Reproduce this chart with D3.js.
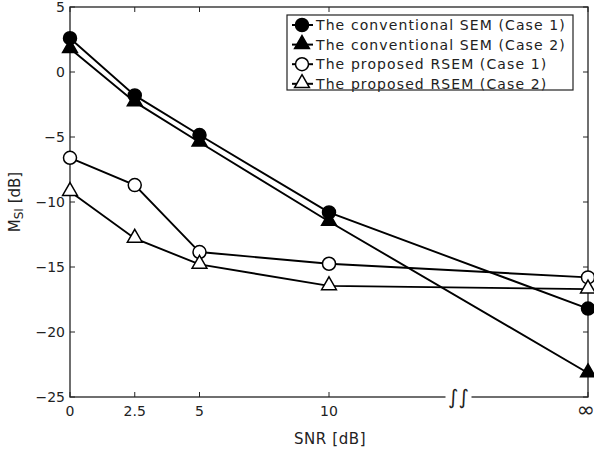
<!DOCTYPE html>
<html><head><meta charset="utf-8">
<script src="https://cdn.jsdelivr.net/npm/d3@7"></script>
<style>body{margin:0;background:#fff}svg{display:block}text{font-family:"DejaVu Sans",sans-serif;fill:#222}</style>
</head><body>
<svg id="c" width="594" height="453"></svg>
<script>
const snrPos = [0, 2.5, 5, 10, 20];
const snrLabels = ["0", "2.5", "5", "10", "\u221E"];
const yTicks = [5, 0, -5, -10, -15, -20, -25];
const convCase1 = [2.6, -1.8, -4.85, -10.8, -18.2];
const convCase2 = [1.8, -2.3, -5.4, -11.5, -23.15];
const propCase1 = [-6.6, -8.7, -13.85, -14.75, -15.8];
const propCase2 = [-9.2, -12.8, -14.8, -16.45, -16.7];
const seriesNames = ["The conventional SEM (Case 1)", "The conventional SEM (Case 2)", "The proposed RSEM (Case 1)", "The proposed RSEM (Case 2)"];
const breakAt = 15;

const series = [
  {name: seriesNames[0], vals: convCase1, shape: "circle", fill: "#000"},
  {name: seriesNames[1], vals: convCase2, shape: "triangle", fill: "#000"},
  {name: seriesNames[2], vals: propCase1, shape: "circle", fill: "#fff"},
  {name: seriesNames[3], vals: propCase2, shape: "triangle", fill: "#fff"}
];

const svg = d3.select("#c");
const L = 70, R = 588, T = 7, B = 397;
const x = d3.scaleLinear().domain([0, 20]).range([L, R]);
const y = d3.scaleLinear().domain([-25, 5]).range([B, T]);

const g = svg.append("g");
g.append("rect").attr("x", L).attr("y", T).attr("width", R - L).attr("height", B - T)
  .attr("fill", "none").attr("stroke", "#222").attr("stroke-width", 1.3);

const tl = 5;
snrPos.forEach(v => {
  g.append("line").attr("x1", x(v)).attr("x2", x(v)).attr("y1", B).attr("y2", B - tl).attr("stroke", "#222");
  g.append("line").attr("x1", x(v)).attr("x2", x(v)).attr("y1", T).attr("y2", T + tl).attr("stroke", "#222");
});
yTicks.forEach(v => {
  g.append("line").attr("x1", L).attr("x2", L + tl).attr("y1", y(v)).attr("y2", y(v)).attr("stroke", "#222");
  g.append("line").attr("x1", R).attr("x2", R - tl).attr("y1", y(v)).attr("y2", y(v)).attr("stroke", "#222");
});

snrPos.forEach((v, i) => {
  const isInf = snrLabels[i] === "\u221E";
  g.append("text").attr("x", x(v) - (isInf ? 2 : 0)).attr("y", B + (isInf ? 20 : 19)).attr("text-anchor", "middle")
    .attr("font-size", isInf ? 22 : 14).text(snrLabels[i]);
});
yTicks.forEach(v => {
  g.append("text").attr("x", L - 5).attr("y", y(v) + 5).attr("text-anchor", "end")
    .attr("font-size", 14).text(v < 0 ? "\u2212" + Math.abs(v) : String(v));
});

// axis break
g.append("rect").attr("x", x(breakAt) - 13).attr("y", B - 3).attr("width", 26).attr("height", 6).attr("fill", "#fff");
g.append("text").attr("x", x(breakAt)).attr("y", B + 7).attr("text-anchor", "middle")
  .attr("font-size", 20).attr("font-family", "DejaVu Serif").text("\u222B\u222B");

svg.append("text").attr("x", 330).attr("y", 444).attr("text-anchor", "middle").attr("font-size", 15)
  .attr("letter-spacing", 0.6).text("SNR [dB]");
const yl = svg.append("text").attr("transform", "translate(20," + ((T + B) / 2) + ") rotate(-90)")
  .attr("text-anchor", "middle").attr("font-size", 15);
yl.append("tspan").text("M");
yl.append("tspan").attr("font-size", 12).attr("dy", 3).text("SI");
yl.append("tspan").attr("dy", -3).text(" [dB]");

const line = d3.line().x((d, i) => x(snrPos[i])).y(d => y(d));
const tri = d3.symbol().type(d3.symbolTriangle).size(95);
function marker(sel, s, cx, cy) {
  if (s.shape === "circle") {
    sel.append("circle").attr("cx", cx).attr("cy", cy).attr("r", 6.5)
      .attr("fill", s.fill).attr("stroke", "#000").attr("stroke-width", 1.5);
  } else {
    sel.append("path").attr("d", tri).attr("transform", "translate(" + cx + "," + (cy - 0.5) + ")")
      .attr("fill", s.fill).attr("stroke", "#000").attr("stroke-width", 1.5);
  }
}
series.forEach(s => {
  svg.append("path").datum(s.vals).attr("d", line).attr("fill", "none").attr("stroke", "#000").attr("stroke-width", 1.9);
});
series.forEach(s => {
  s.vals.forEach((v, i) => marker(svg, s, x(snrPos[i]), y(v)));
});

const lg = svg.append("g");
lg.append("rect").attr("x", 287).attr("y", 15).attr("width", 286).attr("height", 75)
  .attr("fill", "#fff").attr("stroke", "#222").attr("stroke-width", 1.2);
series.forEach((s, i) => {
  const yy = 25 + i * 19.6;
  lg.append("line").attr("x1", 292).attr("x2", 313).attr("y1", yy).attr("y2", yy).attr("stroke", "#000").attr("stroke-width", 2);
  marker(lg, s, 302, yy);
  lg.append("text").attr("x", 316).attr("y", yy + 5).attr("font-size", 14)
    .attr("letter-spacing", 1.1).text(s.name);
});
</script>
</body></html>
